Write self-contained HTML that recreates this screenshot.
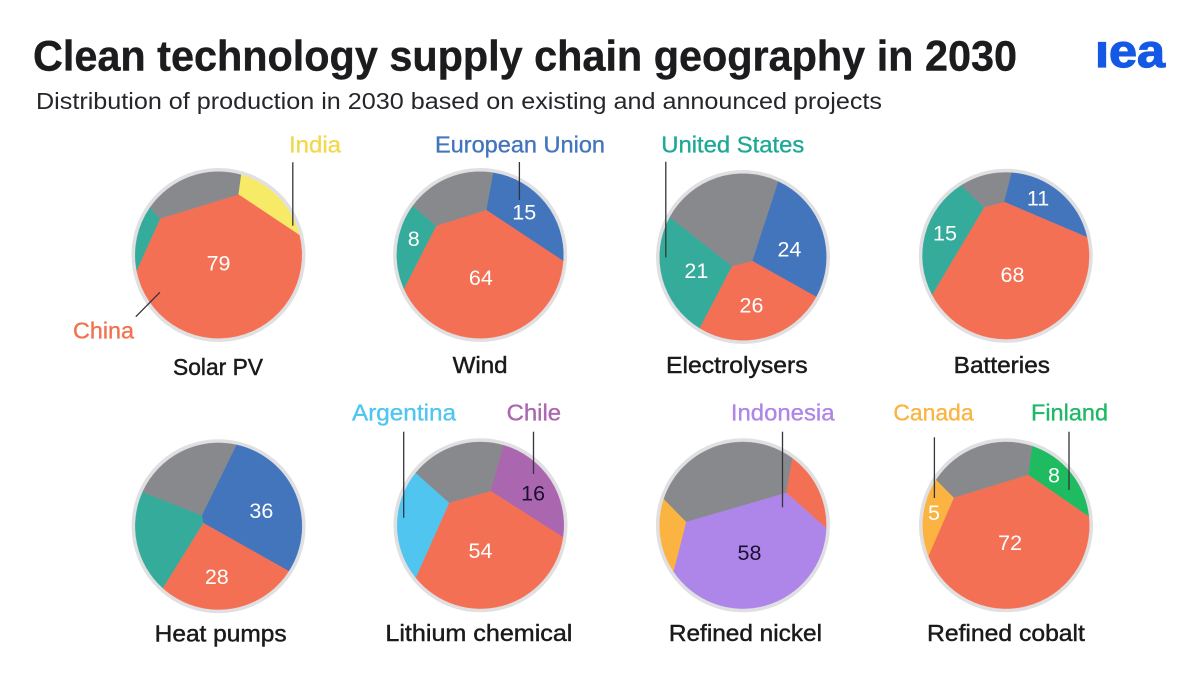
<!DOCTYPE html>
<html lang="en">
<head>
<meta charset="utf-8">
<title>Clean technology supply chain geography in 2030</title>
<style>
  html, body { margin: 0; padding: 0; background: #ffffff; }
  svg { display: block; font-family: "Liberation Sans", sans-serif; }
  .title { font-size: 42.5px; font-weight: 700; fill: #1c1c1e; stroke: #1c1c1e; stroke-width: 0.4px; }
  .subtitle { font-size: 23px; fill: #26262a; }
  .region { font-size: 23.5px; stroke-width: 0.35px; }
  .caption { font-size: 23px; fill: #1a1a1c; stroke: #1a1a1c; stroke-width: 0.45px; }
  .leader { stroke: #34343a; stroke-width: 1.3px; fill: none; }
  .value { font-size: 21.5px; text-anchor: middle; dominant-baseline: central; }
  .ring { fill: none; stroke: #e0e0e2; stroke-width: 3.7px; }
</style>
</head>
<body>
<svg id="chart" width="1200" height="675" viewBox="0 0 1200 675" xmlns="http://www.w3.org/2000/svg">
  <rect width="1200" height="675" fill="#ffffff"/>
  <text class="title" x="33" y="70.5" textLength="984" lengthAdjust="spacingAndGlyphs">Clean technology supply chain geography in 2030</text>
  <text class="subtitle" x="36" y="109" textLength="846" lengthAdjust="spacingAndGlyphs">Distribution of production in 2030 based on existing and announced projects</text>
  <text x="1095" y="67" textLength="70" lengthAdjust="spacingAndGlyphs" style="font-size:46px;font-weight:700;fill:#1458e6;stroke:#1458e6;stroke-width:1.2px">ıea</text>

  <g id="pies"></g>

  <g>
    <line class="leader" x1="292.8" y1="162.3" x2="292.8" y2="225.7"/>
    <line class="leader" x1="159.9" y1="292.3" x2="135.8" y2="316.7"/>
    <line class="leader" x1="519.4" y1="162" x2="519.4" y2="200"/>
    <line class="leader" x1="665.8" y1="161.7" x2="665.8" y2="257.3"/>
    <line class="leader" x1="403.7" y1="431.7" x2="403.7" y2="517.7"/>
    <line class="leader" x1="533.5" y1="431.7" x2="533.5" y2="474"/>
    <line class="leader" x1="782.5" y1="431.7" x2="782.5" y2="507.3"/>
    <line class="leader" x1="934.4" y1="437.3" x2="934.4" y2="498"/>
    <line class="leader" x1="1069" y1="431.7" x2="1069" y2="490"/>
  </g>

  <g>
    <text class="region" x="289" y="152.7" textLength="52" lengthAdjust="spacingAndGlyphs" fill="#f3d84c" stroke="#f3d84c">India</text>
    <text class="region" x="73" y="338.5" textLength="61" lengthAdjust="spacingAndGlyphs" fill="#f2714f" stroke="#f2714f">China</text>
    <text class="region" x="435" y="152.7" textLength="170" lengthAdjust="spacingAndGlyphs" fill="#4375bd" stroke="#4375bd">European Union</text>
    <text class="region" x="661.3" y="152.3" textLength="143" lengthAdjust="spacingAndGlyphs" fill="#1fa896" stroke="#1fa896">United States</text>
    <text class="region" x="352" y="420.3" textLength="104" lengthAdjust="spacingAndGlyphs" fill="#4fc5ef" stroke="#4fc5ef">Argentina</text>
    <text class="region" x="506.6" y="420.3" textLength="54.5" lengthAdjust="spacingAndGlyphs" fill="#ab66b0" stroke="#ab66b0">Chile</text>
    <text class="region" x="730.9" y="420.3" textLength="103.6" lengthAdjust="spacingAndGlyphs" fill="#ae85e8" stroke="#ae85e8">Indonesia</text>
    <text class="region" x="893.4" y="420.3" textLength="80.2" lengthAdjust="spacingAndGlyphs" fill="#fbb342" stroke="#fbb342">Canada</text>
    <text class="region" x="1031" y="420.3" textLength="77" lengthAdjust="spacingAndGlyphs" fill="#1fb866" stroke="#1fb866">Finland</text>
  </g>

  <g>
    <text class="caption" x="173" y="375" textLength="90" lengthAdjust="spacingAndGlyphs">Solar PV</text>
    <text class="caption" x="452.6" y="373" textLength="55" lengthAdjust="spacingAndGlyphs">Wind</text>
    <text class="caption" x="666" y="373" textLength="141.6" lengthAdjust="spacingAndGlyphs">Electrolysers</text>
    <text class="caption" x="953.7" y="373" textLength="96.3" lengthAdjust="spacingAndGlyphs">Batteries</text>
    <text class="caption" x="154.7" y="641.7" textLength="131.9" lengthAdjust="spacingAndGlyphs">Heat pumps</text>
    <text class="caption" x="385.4" y="641" textLength="187" lengthAdjust="spacingAndGlyphs">Lithium chemical</text>
    <text class="caption" x="668.9" y="641" textLength="153.1" lengthAdjust="spacingAndGlyphs">Refined nickel</text>
    <text class="caption" x="927" y="641" textLength="157.9" lengthAdjust="spacingAndGlyphs">Refined cobalt</text>
  </g>
</svg>

<script>
// Chart data: shares in percent, clockwise. Unlabelled slices are estimates.
const categories = ["Solar PV", "Wind", "Electrolysers", "Batteries", "Heat pumps", "Lithium chemical", "Refined nickel", "Refined cobalt"];

const solarRegions = ["India", "China", "United States", "Rest of world"];
const solarValues = [7, 79, 4, 10];

const windRegions = ["European Union", "China", "United States", "Rest of world"];
const windValues = [15, 64, 8, 13];

const electrolyserRegions = ["European Union", "China", "United States", "Rest of world"];
const electrolyserValues = [24, 26, 21, 29];

const batteryRegions = ["European Union", "China", "United States", "Rest of world"];
const batteryValues = [11, 68, 15, 6];

const heatPumpRegions = ["European Union", "China", "United States", "Rest of world"];
const heatPumpValues = [36, 28, 18, 18];

const lithiumRegions = ["Chile", "China", "Argentina", "Rest of world"];
const lithiumValues = [16, 54, 16, 14];

const nickelRegions = ["China", "Indonesia", "Canada", "Rest of world"];
const nickelValues = [6, 58, 6, 30];

const cobaltRegions = ["Finland", "China", "Canada", "Rest of world"];
const cobaltValues = [8, 72, 5, 15];

const allRegions = [solarRegions, windRegions, electrolyserRegions, batteryRegions, heatPumpRegions, lithiumRegions, nickelRegions, cobaltRegions];
const allValues = [solarValues, windValues, electrolyserValues, batteryValues, heatPumpValues, lithiumValues, nickelValues, cobaltValues];

// Styling, by region name.
const regionFill = {
  "China": "#f47055",
  "India": "#f7ea66",
  "European Union": "#4375bd",
  "United States": "#35ab9b",
  "Rest of world": "#87898c",
  "Argentina": "#4fc5ef",
  "Chile": "#ab66b0",
  "Indonesia": "#ae85e8",
  "Canada": "#fbb342",
  "Finland": "#1fbb60"
};
const darkValueRegions = ["Chile", "Indonesia"];

// Layout tuning for the Voronoi-style pies. Rim arcs scale with sqrt(value); the inner
// junctions are pushed away from the value-weighted resultant of the slices.
const RADIUS = 83.3;
const RING_RADIUS = 85.15;
const pieLayouts = [
  { cx: 218.5, cy: 255, start: 15.6, arc: [22.9, 20.6, 22.7, 22.4], gain: 0.983, tilt: -8.7, edge: 0.553, skew: -5,
    labels: [null, { f: 0.1, d: 12 }, null, null] },
  { cx: 480.1, cy: 255, start: 8.9, arc: [22.0, 19.0, 21.2, 17.4], gain: 1.192, tilt: -13.5, edge: 0.408, skew: -7.4,
    labels: [{ f: 0.737, d: -5.6 }, { f: 0.276, d: 8 }, { f: 0.819, d: 7.3 }, null] },
  { cx: 743, cy: 257, start: 24.9, arc: [19.1, 18.2, 19.0, 16.0], gain: 1.76, tilt: 6.9, edge: 0.228, skew: 1,
    labels: [{ f: 0.565, d: 8.8 }, { f: 0.589, d: 5 }, { f: 0.585, d: -2 }, null] },
  { cx: 1005.8, cy: 255.8, start: 3.8, arc: [22.1, 20.0, 22.0, 14.8], gain: 1.313, tilt: 4.9, edge: 0.167, skew: 5.3,
    labels: [{ f: 0.791, d: -11.2 }, { f: 0.244, d: 1 }, { f: 0.777, d: 5.1 }, null] },
  { cx: 218.6, cy: 526.2, start: 12.3, arc: [18.4, 18.8, 17.0, 18.4], gain: 1.86, tilt: 15.5, edge: 0.1015, skew: 87.1, flip: true,
    labels: [{ f: 0.545, d: 2.9 }, { f: 0.61, d: 9.6 }, null, null] },
  { cx: 480.5, cy: 525.3, start: 15.9, arc: [20.6, 18.1, 19.5, 17.9], gain: 1.18, tilt: -6.6, edge: 0.379, skew: -0.4,
    labels: [{ f: 0.737, d: 1.9 }, { f: 0.309, d: 15.3 }, null, null] },
  { cx: 742.9, cy: 525.3, start: 36.2, arc: [22.8, 19.0, 21.2, 19.7], gain: 0.891, tilt: -7.2, edge: 0.71, skew: -0.45,
    labels: [null, { f: 0.342, d: 2.4 }, null, null] },
  { cx: 1006, cy: 525.3, start: 18.2, arc: [23.3, 19.4, 24.4, 19.4], gain: 0.969, tilt: -6.3, edge: 0.536, skew: -3.4,
    labels: [{ f: 0.831, d: -7.3 }, { f: 0.218, d: 0.6 }, { f: 0.877, d: 3.8 }, null] }
];

const SVG_NS = "http://www.w3.org/2000/svg";

function unit(deg) {
  const r = deg * Math.PI / 180;
  return [Math.sin(r), -Math.cos(r)];
}

function slug(s) {
  return s.toLowerCase().replace(/[^a-z0-9]+/g, "-");
}

function pieGeometry(values, layout) {
  const total = values.reduce((a, b) => a + b, 0);
  const roots = values.map((v, i) => layout.arc[i] * Math.sqrt(v));
  const rootTotal = roots.reduce((a, b) => a + b, 0);
  const edges = [layout.start];
  const mids = [];
  roots.forEach((r, i) => {
    const span = 360 * r / rootTotal;
    mids.push(edges[i] + span / 2);
    edges.push(edges[i] + span);
  });

  let rx = 0, ry = 0;
  values.forEach((v, i) => {
    const u = unit(mids[i]);
    rx += (v / total) * u[0];
    ry += (v / total) * u[1];
  });
  const away = Math.atan2(-rx, ry) * 180 / Math.PI;
  const pull = layout.gain * Math.hypot(rx, ry);
  const mu = unit(away + layout.tilt);
  const mid = [pull * mu[0], pull * mu[1]];

  const half = layout.edge * (1 - (values[0] + values[2]) / total);
  const eu = unit(mids[1] - 90 + layout.skew);
  const hubA = [mid[0] + half * eu[0], mid[1] + half * eu[1]];
  const hubB = [mid[0] - half * eu[0], mid[1] - half * eu[1]];
  const inner = layout.flip ? [hubB, hubA, hubA, hubB] : [hubA, hubA, hubB, hubB];
  return { edges, mids, inner };
}

const root = document.getElementById("pies");

categories.forEach((category, p) => {
  const values = allValues[p];
  const regions = allRegions[p];
  const layout = pieLayouts[p];
  const geo = pieGeometry(values, layout);
  const key = slug(category);
  const X = n => layout.cx + n * RADIUS;
  const Y = n => layout.cy + n * RADIUS;

  const group = document.createElementNS(SVG_NS, "g");
  
  

  const ring = document.createElementNS(SVG_NS, "circle");
  
  
  ring.setAttribute("class", "ring");
  ring.setAttribute("cx", layout.cx);
  ring.setAttribute("cy", layout.cy);
  ring.setAttribute("r", RING_RADIUS);
  group.appendChild(ring);

  values.forEach((v, i) => {
    const a0 = geo.edges[i], a1 = geo.edges[i + 1];
    const u0 = unit(a0), u1 = unit(a1);
    const h0 = geo.inner[i], h1 = geo.inner[(i + 1) % 4];
    const d = "M" + X(u0[0]).toFixed(2) + " " + Y(u0[1]).toFixed(2) +
      " A" + RADIUS + " " + RADIUS + " 0 " + (a1 - a0 > 180 ? 1 : 0) + " 1 " + X(u1[0]).toFixed(2) + " " + Y(u1[1]).toFixed(2) +
      " L" + X(h1[0]).toFixed(2) + " " + Y(h1[1]).toFixed(2) +
      " L" + X(h0[0]).toFixed(2) + " " + Y(h0[1]).toFixed(2) + " Z";
    const slice = document.createElementNS(SVG_NS, "path");
    
    
    slice.setAttribute("d", d);
    slice.setAttribute("fill", regionFill[regions[i]]);
    slice.setAttribute("stroke", regionFill[regions[i]]);
    slice.setAttribute("stroke-width", "0.4");
    group.appendChild(slice);
  });

  values.forEach((v, i) => {
    const spot = layout.labels[i];
    if (!spot) return;
    const u = unit(geo.mids[i] + spot.d);
    const label = document.createElementNS(SVG_NS, "text");
    
    
    label.setAttribute("class", "value");
    label.setAttribute("x", X(u[0] * spot.f).toFixed(2));
    label.setAttribute("y", Y(u[1] * spot.f).toFixed(2));
    label.setAttribute("fill", darkValueRegions.includes(regions[i]) ? "#1b1030" : "#ffffff");
    label.textContent = v;
    group.appendChild(label);
  });

  root.appendChild(group);
});
</script>
</body>
</html>
